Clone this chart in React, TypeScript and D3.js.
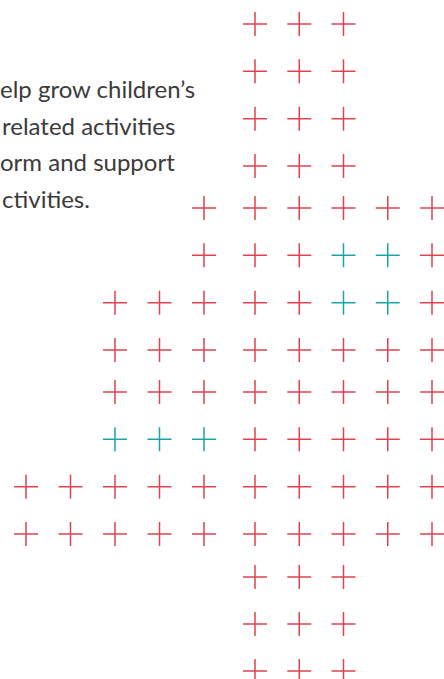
import React from 'react';
import * as d3 from 'd3';

// visible part of the intro copy (cropped on the left in the source)
const introLines = [
  'elp grow children\u2019s',
  'related activities',
  'orm and support',
  'ctivities.',
];

// r = red cross, t = teal cross, . = empty
const gridRows = [
  '.....rrr..',
  '.....rrr..',
  '.....rrr..',
  '.....rrr..',
  '....rrrrrr',
  '....rrrttr',
  '..rrrrrttr',
  '..rrrrrrrr',
  '..rrrrrrrr',
  '..tttrrrrr',
  'rrrrrrrrrr',
  'rrrrrrrrrr',
  '.....rrr..',
  '.....rrr..',
  '.....rrr..',
];

const colors: Record<string, string> = {
  r: '#e0434f',
  t: '#1ba3a8',
};

const W = 444;
const H = 679;
const ARM = 12;

const App: React.FC = () => {
  // columns come in two blocks of five, rows in blocks of four
  const x = d3.scaleLinear().domain([0, 4, 5, 9]).range([26, 204, 255, 432]);
  const y = d3
    .scaleLinear()
    .domain([0, 3, 4, 7, 8, 11, 12, 14])
    .range([24, 166, 208, 350, 392, 534, 577, 671]);
  const lineY = d3.scaleLinear().domain([0, introLines.length - 1]).range([98, 208]);

  const cells: { row: number; col: number; kind: string }[] = [];
  gridRows.forEach((r, row) => {
    r.split('').forEach((kind, col) => {
      if (kind !== '.') cells.push({ row, col, kind });
    });
  });

  return (
    <>
      <style>{`body{margin:0}`}</style>
      <svg width={W} height={H} style={{ display: 'block' }}>
        <g fontFamily="Lato, 'Open Sans', sans-serif" fontSize={24} fill="#3b3b3b">
          {introLines.map((t, i) => (
            <text key={i} x={i % 2 === 0 ? 0 : 2} y={lineY(i)}>
              {t}
            </text>
          ))}
        </g>
        <g fill="none" strokeWidth={1.5}>
          {cells.map((c, i) => {
            const cx = x(c.col);
            const cy = y(c.row);
            return (
              <path
                key={i}
                d={`M${cx - ARM},${cy}h${ARM * 2}M${cx},${cy - ARM}v${ARM * 2}`}
                stroke={colors[c.kind]}
              />
            );
          })}
        </g>
      </svg>
    </>
  );
};

export default App;
